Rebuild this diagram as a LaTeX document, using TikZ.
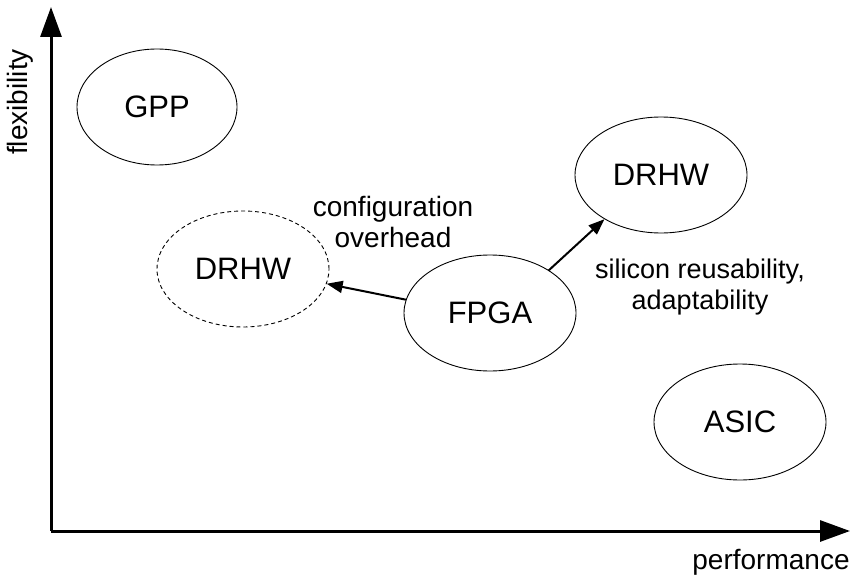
\documentclass[tikz,border=0pt]{standalone}
\usepackage{fontspec}
\setmainfont{Liberation Sans}
\usetikzlibrary{shapes.geometric,arrows.meta}
\begin{document}
\begin{tikzpicture}[x=1pt,y=-1pt,
  blob/.style={ellipse,draw,line width=0.9pt,inner sep=0pt,
    minimum width=172pt,minimum height=116pt,font=\fontsize{31}{35}\selectfont},
  axis/.style={line width=3pt,-{Triangle[length=30pt,width=21pt]}},
  link/.style={line width=2pt,-{Triangle[length=16pt,width=12pt]}},
  note/.style={font=\fontsize{28}{31}\selectfont,align=center}]
\useasboundingbox (0,0) rectangle (850,580);
% axes
\coordinate (origin) at (51,531);
\coordinate (ytip) at (51,7);
\coordinate (xtip) at (850,531);
\draw[axis] (origin) -- (ytip);
\draw[axis] (origin) -- (xtip);
\node[note,rotate=90] (flex) at (20,102) {flexibility};
\node[note] (perf) at (771,562) {performance};
% technologies
\node[blob,minimum width=160pt] (gpp) at (157,107) {GPP};
\node[blob,dash pattern=on 4pt off 3pt] (drhwa) at (243,269) {DRHW};
\node[blob] (fpga) at (490,313) {FPGA};
\node[blob] (drhwb) at (661,175) {DRHW};
\node[blob] (asic) at (740,422) {ASIC};
% trade-offs
\draw[link] (fpga.171) -- (drhwa.350);
\draw[link] (fpga.36) -- (drhwb.218);
\node[note] (cfg) at (393,222) {configuration\\overhead};
\node[note,font=\fontsize{27}{31}\selectfont] (sil) at (700,287) {silicon reusability,\\adaptability};
\end{tikzpicture}
\end{document}
